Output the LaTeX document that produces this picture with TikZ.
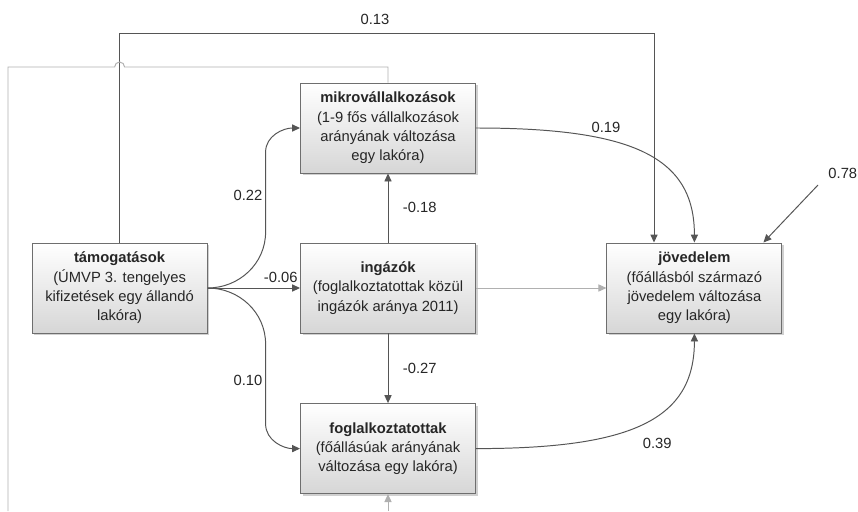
\documentclass[tikz,border=0pt]{standalone}
\usepackage{fontspec}
\setmainfont{Liberation Sans}
\usepackage{tikz}
\usetikzlibrary{arrows.meta,positioning,calc,shadows}
\definecolor{edge}{HTML}{555555}
\definecolor{pale}{HTML}{B0B0B0}
\definecolor{frame}{HTML}{6E6E6E}

\begin{document}
\begin{tikzpicture}[x=1cm, y=1cm, >={Triangle[length=2mm, width=1.8mm]},
  var/.style={draw=frame, line width=0.7pt, top color=white, bottom color=black!16,
    drop shadow={shadow xshift=0.5mm, shadow yshift=-0.5mm, fill=black!30, opacity=0.6},
    minimum width=4.375cm, minimum height=2.25cm, align=center,
    font=\fontsize{10.5}{13.7}\selectfont, text=black!85},
  link/.style={draw=edge, line width=0.7pt},
  faint/.style={draw=pale, line width=0.7pt},
  coef/.style={font=\fontsize{10.5}{12}\selectfont, text=black!85}]
\useasboundingbox[fill=white] (0,0) rectangle (21.45,12.775);
\node[var] (tam) at (2.99,5.575) {\textbf{támogatások}\\(ÚMVP 3. tengelyes\\kifizetések egy állandó\\lakóra)};
\node[var] (ing) at (9.7,5.575) {\textbf{ingázók}\\(foglalkoztatottak közül\\ingázók aránya 2011)};
\node[var] (mik) at (9.7,9.575) {\textbf{mikrovállalkozások}\\(1-9 fős vállalkozások\\arányának változása\\egy lakóra)};
\node[var] (fog) at (9.7,1.56) {\textbf{foglalkoztatottak}\\(főállásúak arányának\\változása egy lakóra)};
\node[var] (jov) at (17.36,5.575) {\textbf{jövedelem}\\(főállásból származó\\jövedelem változása\\egy lakóra)};
\coordinate (over) at (16.35,11.95);
\coordinate (resid) at (20.45,8.15);
\coordinate (loopin) at (0.2,0);
\coordinate (loopout) at (9.7,0);
\draw[link, ->] (tam.east) -- (ing.west);
\draw[link, ->] (tam.east) to[out=0, in=-90] ++(1.45,1.4) -- ++(0,2) to[out=90, in=180] (mik.west);
\draw[link, ->] (tam.east) to[out=0, in=90] ++(1.45,-1.4) -- ++(0,-2) to[out=-90, in=180] (fog.west);
\draw[link, ->] (ing.north) -- (mik.south);
\draw[link, ->] (ing.south) -- (fog.north);
\draw[faint, ->] (ing.east) -- (jov.west);
\draw[link, ->] (mik.east) .. controls +(3.9,0) and +(0,2.15) .. (jov.north);
\draw[link, ->] (fog.east) .. controls +(3.9,0) and +(0,-2.15) .. (jov.south);
\draw[link, ->] (tam.north) |- (over) -- (over |- jov.north);
\draw[link, ->] (resid) -- ([xshift=-4.75mm]jov.north east);
\draw[faint] (loopin) |- ++(2.665,11.1) arc[start angle=180, end angle=0, radius=1.25mm] -| (mik.north);
\draw[faint, ->] (loopout) -- (fog.south);
\node[coef] (c13) at (9.375,12.3) {0.13};
\node[coef] (c19) at (15.15,9.6) {0.19};
\node[coef] (c78) at (21.07,8.45) {0.78};
\node[coef] (c22) at (6.2,7.9) {0.22};
\node[coef] (c06) at (7.02,5.83) {-0.06};
\node[coef] (c10) at (6.2,3.275) {0.10};
\node[coef, anchor=west] (c18) at (9.95,7.58) {-0.18};
\node[coef, anchor=west] (c27) at (9.95,3.575) {-0.27};
\node[coef] (c39) at (16.43,1.7) {0.39};
\end{tikzpicture}
\end{document}
